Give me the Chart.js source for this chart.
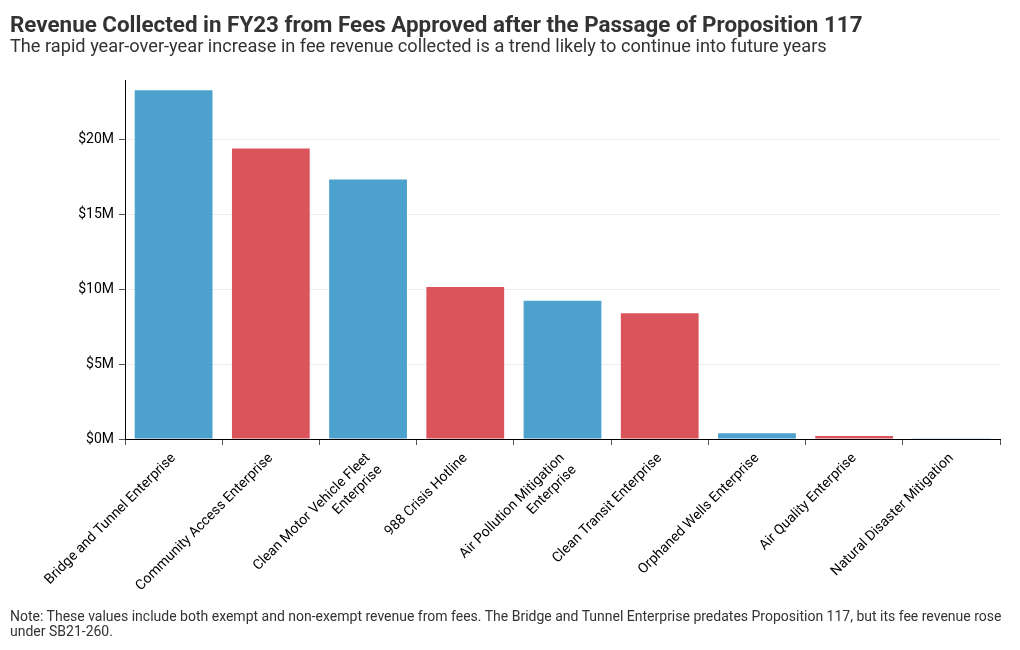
<!DOCTYPE html>
<html>
<head>
<meta charset="utf-8">
<script src="https://cdn.jsdelivr.net/npm/chart.js@4"></script>
<style>
  html, body { margin: 0; padding: 0; background: #fff; }
  body { width: 1020px; height: 650px; position: relative; overflow: hidden; font-family: Roboto, "Noto Sans", sans-serif; }
  #wrap { position: absolute; left: 0; top: 0; width: 1020px; height: 650px; }
  .t { position: absolute; left: 10px; color: #333; white-space: nowrap; }
  #title { top: 13px; font-size: 22.4px; font-weight: bold; line-height: 1; }
  #subtitle { top: 37px; font-size: 18.2px; line-height: 1; }
  #note { top: 609px; font-size: 14px; line-height: 15px; white-space: normal; width: 1008px; }
</style>
</head>
<body>
<div id="wrap"><canvas id="c" width="1020" height="650"></canvas></div>
<div class="t" id="title">Revenue Collected in FY23 from Fees Approved after the Passage of Proposition 117</div>
<div class="t" id="subtitle">The rapid year-over-year increase in fee revenue collected is a trend likely to continue into future years</div>
<div class="t" id="note">Note: These values include both exempt and non-exempt revenue from fees. The Bridge and Tunnel Enterprise predates Proposition 117, but its fee revenue rose under SB21-260.</div>
<script>
// ---- data ----
const categories = [
  "Bridge and Tunnel Enterprise",
  "Community Access Enterprise",
  ["Clean Motor Vehicle Fleet", "Enterprise"],
  "988 Crisis Hotline",
  ["Air Pollution Mitigation", "Enterprise"],
  "Clean Transit Enterprise",
  "Orphaned Wells Enterprise",
  "Air Quality Enterprise",
  "Natural Disaster Mitigation"
];
const revenueMillions = [23.32, 19.42, 17.34, 10.16, 9.24, 8.41, 0.38, 0.20, 0.05];
const yTickValues = [0, 5, 10, 15, 20];
const yMax = 24;

// ---- styles ----
const BLUE = "rgb(76,162,205)";
const RED = "rgb(217,84,91)";
const barColors = revenueMillions.map((v, i) => (i % 2 === 0 ? BLUE : RED));

new Chart(document.getElementById("c"), {
  type: "bar",
  data: {
    labels: categories,
    datasets: [{
      data: revenueMillions,
      backgroundColor: barColors,
      borderWidth: 0,
      categoryPercentage: 1,
      barPercentage: 0.8
    }]
  },
  options: {
    responsive: false,
    animation: false,
    devicePixelRatio: 1,
    layout: { padding: { top: 80, left: 10, right: 20, bottom: 61 } },
    plugins: { legend: { display: false }, tooltip: { enabled: false }, title: { display: false } },
    scales: {
      x: {
        grid: { display: true, drawOnChartArea: false, tickLength: 6, tickColor: "#555", color: "#555" },
        border: { display: true, color: "#000", width: 1 },
        ticks: {
          minRotation: 45, maxRotation: 45, autoSkip: false, padding: 5,
          color: "#000", font: { family: "Roboto", size: 14 }
        },
        afterFit: (s) => { s.height = 150; }
      },
      y: {
        min: 0, max: yMax,
        afterBuildTicks: (s) => { s.ticks = yTickValues.map(v => ({ value: v })); },
        grid: { color: "#ececec", tickColor: "#555", tickLength: 6, lineWidth: 1 },
        border: { display: true, color: "#000", width: 1 },
        ticks: {
          padding: 5, color: "#000", font: { family: "Roboto", size: 14 },
          callback: (v) => "$" + v + "M"
        },
        afterFit: (s) => { s.width = 115; }
      }
    }
  }
});
</script>
</body>
</html>
